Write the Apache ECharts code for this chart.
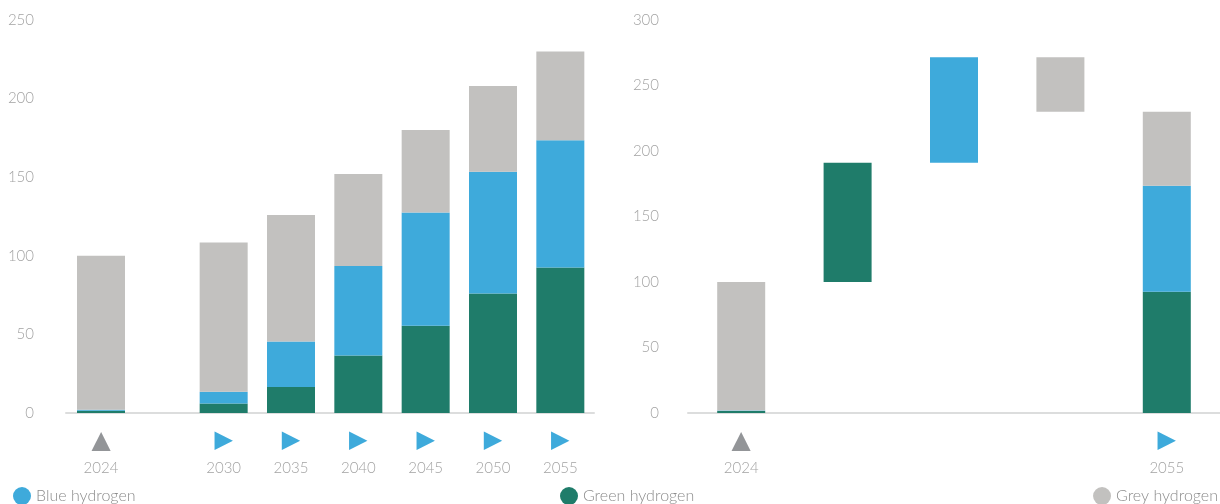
<!DOCTYPE html>
<html>
<head>
<meta charset="utf-8">
<script src="https://cdn.jsdelivr.net/npm/echarts@6/dist/echarts.min.js"></script>
<style>
  html, body { margin: 0; padding: 0; background: #fff; }
  #chart { width: 1220px; height: 504px; }
</style>
</head>
<body>
<div id="chart"></div>
<script>
// Hydrogen production by type (left: outlook by year, right: change 2024 -> 2055)
const years = ['2024', '2030', '2035', '2040', '2045', '2050', '2055'];
const greenH = [1.5, 6, 16.5, 36.5, 55.5, 76, 92.5];
const blueH  = [0.5, 7.5, 29, 57, 72, 77.5, 81];
const greyH  = [98, 95, 80.5, 58.5, 52.5, 54.5, 56.5];

const leftTicks  = { min: 0, max: 250, interval: 50 };
const rightTicks = { min: 0, max: 300, interval: 50 };

const COLORS = { green: '#1f7c6a', blue: '#3eaadb', grey: '#c2c1bf' };
const NAMES = { green: 'Green hydrogen', blue: 'Blue hydrogen', grey: 'Grey hydrogen' };
const FONT = 'Lato, "Open Sans", sans-serif';
const TEXT = '#a3a3a3';

// Waterfall pieces derived from the first and last year
const last = years.length - 1;
const start = greenH[0] + blueH[0] + greyH[0];
const dGreen = greenH[last] - greenH[0];
const dBlue = blueH[last] - blueH[0];
const dGrey = greyH[last] - greyH[0];
const wfCats = ['2024', 'g', 'b', 'r', '2055'];
const wfBase  = [0, start, start + dGreen, start + dGreen + dBlue + dGrey, 0];
const wfGreen = [greenH[0], dGreen, '-', '-', greenH[last]];
const wfBlue  = [blueH[0], '-', dBlue, '-', blueH[last]];
const wfGrey  = [greyH[0], '-', '-', -dGrey, greyH[last]];

const richLabel = {
  up:  { fontFamily: 'DejaVu Sans', fontSize: 25, color: '#939598', lineHeight: 30, align: 'center' },
  rt:  { fontFamily: 'DejaVu Sans', fontSize: 24, color: '#3eaadb', lineHeight: 30, align: 'center' },
  yr:  { fontFamily: FONT, fontSize: 15, fontWeight: 300, color: TEXT, lineHeight: 24, align: 'center' }
};
function yearLabel(v) {
  if (v === '2024') return '{up|▲}\n{yr|' + v + '}';
  if (/^\d{4}$/.test(v)) return '{rt|▶}\n{yr|' + v + '}';
  return '';
}
function xAxis(gridIndex, data) {
  return {
    type: 'category', gridIndex, data,
    axisLine: { lineStyle: { color: '#dcdddd', width: 2 } },
    axisTick: { show: false },
    axisLabel: { interval: 0, margin: 13, formatter: yearLabel, rich: richLabel }
  };
}
function yAxis(gridIndex, ticks, show, margin) {
  return {
    type: 'value', gridIndex, min: ticks.min, max: ticks.max, interval: ticks.interval,
    show,
    splitLine: { show: false }, axisLine: { show: false }, axisTick: { show: false },
    axisLabel: { margin, color: TEXT, fontFamily: FONT, fontWeight: 300, fontSize: 15 }
  };
}
function bar(name, color, data, axisIdx, stack) {
  return {
    type: 'bar', name, data, stack, barWidth: 48,
    xAxisIndex: axisIdx, yAxisIndex: axisIdx,
    itemStyle: { color },
    emphasis: { disabled: true }, animation: false
  };
}
function legend(name, pos) {
  return Object.assign({
    data: [name], top: 487, padding: 0, icon: 'circle', itemWidth: 18, itemHeight: 18, itemGap: 6,
    textStyle: { color: '#8c8c8c', fontFamily: FONT, fontWeight: 300, fontSize: 16 },
    selectedMode: false
  }, pos);
}

const option = {
  animation: false,
  grid: [
    { left: 66, width: 140, top: 20, bottom: 91 },
    { left: 190, width: 404, top: 20, bottom: 91 },
    { left: 688, right: 0, top: 20, bottom: 91 }
  ],
  xAxis: [
    xAxis(0, [years[0], '']),
    xAxis(1, years.slice(1)),
    xAxis(2, wfCats)
  ],
  yAxis: [
    yAxis(0, leftTicks, true, 32),
    yAxis(1, leftTicks, false, 32),
    yAxis(2, rightTicks, true, 29)
  ],
  legend: [
    legend(NAMES.blue, { left: 13 }),
    legend(NAMES.green, { left: 560 }),
    legend(NAMES.grey, { right: 2 })
  ],
  series: [
    bar(NAMES.green, COLORS.green, [greenH[0], '-'], 0, 'a'),
    bar(NAMES.blue, COLORS.blue, [blueH[0], '-'], 0, 'a'),
    bar(NAMES.grey, COLORS.grey, [greyH[0], '-'], 0, 'a'),
    bar(NAMES.green, COLORS.green, greenH.slice(1), 1, 'b'),
    bar(NAMES.blue, COLORS.blue, blueH.slice(1), 1, 'b'),
    bar(NAMES.grey, COLORS.grey, greyH.slice(1), 1, 'b'),
    bar('base', 'rgba(0,0,0,0)', wfBase, 2, 'w'),
    bar(NAMES.green, COLORS.green, wfGreen, 2, 'w'),
    bar(NAMES.blue, COLORS.blue, wfBlue, 2, 'w'),
    bar(NAMES.grey, COLORS.grey, wfGrey, 2, 'w')
  ]
};

echarts.init(document.getElementById('chart'), null, { renderer: 'canvas' }).setOption(option);
</script>
</body>
</html>
